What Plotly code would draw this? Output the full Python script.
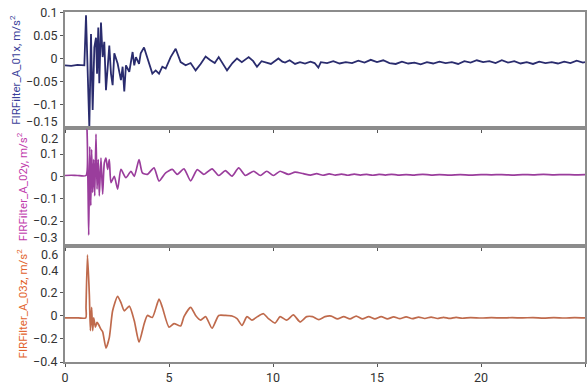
import plotly.graph_objects as go
from plotly.subplots import make_subplots

# ---------------- data ----------------
t_x = [0, 0.3, 0.6, 0.93, 1.01, 1.09, 1.17, 1.25, 1.33, 1.41, 1.49, 1.54, 1.60, 1.65, 1.73, 1.81,
       1.89, 1.97, 2.13, 2.21, 2.29, 2.37, 2.53, 2.69, 2.77, 2.85, 2.93, 3.09, 3.25, 3.33, 3.41,
       3.56, 3.64, 3.80, 3.96, 4.20, 4.36, 4.52, 4.68, 4.84, 5.08, 5.32, 5.56, 5.80, 6.04, 6.28,
       6.52, 6.76, 6.99, 7.2, 7.39, 7.6, 7.79, 8.05, 8.27, 8.50, 8.83, 9.05, 9.23, 9.45, 9.62,
       9.90, 10.26, 10.45, 10.58, 10.8, 11.06, 11.3, 11.54, 11.8, 12.0,
       12.18, 12.3, 12.6, 12.9, 13.2, 13.5, 13.8, 14.1, 14.4, 14.7, 15.0, 15.3, 15.6, 15.9, 16.2,
       16.5, 16.8, 17.1, 17.4, 17.7, 18.0, 18.3, 18.6, 18.9, 19.2, 19.5, 19.8, 20.1, 20.4, 20.7,
       21.0, 21.3, 21.6, 21.9, 22.2, 22.5, 22.8, 23.1, 23.4, 23.7, 24.0, 24.3, 24.6, 24.9, 25.0]
v_x = [-0.015, -0.016, -0.014, -0.015, 0.094, -0.033, -0.151, 0.053, -0.112, 0.024, 0.045, -0.033,
       0.067, -0.054, 0.078, 0.003, 0.036, -0.069, 0.028, -0.033, -0.058, 0.011, -0.011, -0.047,
       -0.018, -0.072, -0.015, -0.029, 0.014, -0.015, 0.003, -0.012, 0.011, 0.024, 0.003, -0.033,
       -0.026, -0.033, -0.018, -0.022, 0.003, 0.021, -0.008, -0.015, -0.010, -0.026,
       -0.012, 0.004, -0.004, -0.010, 0.003, -0.012, -0.026, -0.010, 0.0, -0.008, 0.003, -0.006,
       -0.018, -0.006, -0.008, -0.012, 0.0, -0.007, -0.009, -0.004, -0.012, -0.008, -0.011,
       -0.007, -0.010,
       -0.020, -0.008, -0.010, -0.006, -0.011, -0.008, -0.010, -0.005, -0.009, -0.003, -0.008,
       -0.004, -0.010, -0.012, -0.007, -0.011, -0.009, -0.013, -0.008, -0.011, -0.007, -0.010,
       -0.008, -0.012, -0.006, -0.009, -0.004, -0.008, -0.006, -0.010, -0.004, -0.009, -0.006,
       -0.011, -0.008, -0.012, -0.007, -0.010, -0.008, -0.011, -0.007, -0.010, -0.005, -0.009,
       -0.008]

t_y = [0, 0.3, 0.6, 1.01, 1.06, 1.11, 1.14, 1.19, 1.24, 1.28, 1.33, 1.38, 1.43, 1.49, 1.54, 1.60,
       1.65, 1.73, 1.81, 1.89, 1.97, 2.05, 2.13, 2.21, 2.37, 2.53, 2.69, 2.93, 3.17, 3.33, 3.56,
       3.72, 3.96, 4.28, 4.52, 4.84, 5.16, 5.40, 5.72, 6.04, 6.36, 6.67, 7.07, 7.39, 7.71, 8.03,
       8.35, 8.67, 9.07, 9.39, 9.70, 10.02, 10.34, 10.74, 11.06, 11.46, 11.8, 12.1, 12.4, 12.7,
       13.0, 13.3, 13.6, 13.9, 14.2, 14.5, 14.8, 15.1, 15.4, 15.7, 16.0, 16.4, 16.8, 17.2, 17.6,
       18.0, 18.5, 19.0, 19.5, 20.0, 20.5, 21.0, 21.5, 22.0, 22.5, 23.0, 23.5, 24.0, 24.5, 25.0]
v_y = [0.004, 0.005, 0.004, 0.004, 0.21, -0.072, -0.263, 0.133, -0.131, 0.12, -0.072, 0.075,
       -0.087, 0.189, -0.057, 0.075, -0.087, 0.082, -0.079, 0.06, 0.082, 0.031, 0.075, -0.028,
       0.0, -0.057, 0.031, -0.006, 0.023, 0.0, 0.075, 0.016, 0.009, 0.038, -0.021, 0.016, 0.031,
       0.009, 0.034, -0.02, 0.03, 0.009, 0.034, 0.004, 0.026, 0.001, 0.038, 0.004, 0.023, 0.004,
       0.023, 0.004, 0.023, 0.009, 0.019, 0.012, 0.006, 0.012, 0.005, 0.011, 0.006, 0.010, 0.005,
       0.010, 0.006, 0.009, 0.005, 0.009, 0.006, 0.009, 0.006, 0.008, 0.006, 0.009, 0.006, 0.008,
       0.006, 0.008, 0.006, 0.008, 0.007, 0.008, 0.006, 0.008, 0.007, 0.009, 0.007, 0.008, 0.007,
       0.008]

t_z = [0, 0.5, 1.0, 1.01, 1.08, 1.17, 1.22, 1.28, 1.33, 1.38, 1.46, 1.54, 1.62, 1.73, 1.81, 1.97,
       2.13, 2.29, 2.53, 2.69, 2.85, 3.09, 3.33, 3.56, 3.80, 3.96, 4.20, 4.52, 4.68, 5.00, 5.24,
       5.56, 5.72, 6.04, 6.28, 6.52, 6.76, 7.07, 7.39, 7.71, 8.03, 8.27, 8.51, 8.75, 8.99, 9.25,
       9.54, 9.78, 10.10, 10.34, 10.66, 10.98, 11.30, 11.62, 11.9, 12.2, 12.5, 12.8, 13.1, 13.4,
       13.7, 14.0, 14.3, 14.6, 14.9, 15.2, 15.5, 15.8, 16.1, 16.4, 16.7, 17.0, 17.3, 17.6, 17.9,
       18.2, 18.5, 18.8, 19.1, 19.5, 20.0, 20.5, 21.0, 21.5, 22.0, 22.5, 23.0, 23.5, 24.0, 24.5, 25.0]
v_z = [-0.02, -0.02, -0.02, 0.07, 0.52, 0.18, -0.13, 0.07, -0.13, -0.02, -0.10, -0.06, -0.08,
       -0.12, -0.14, -0.28, -0.19, 0.04, 0.165, 0.11, 0.04, 0.08, -0.045, -0.23, -0.075, 0.0,
       -0.017, 0.14, 0.07, -0.10, -0.07, -0.09, -0.01, 0.07, 0.0, -0.04, -0.01, -0.11, 0.0, 0.0,
       -0.005, -0.027, -0.085, -0.01, -0.04, -0.01, 0.015, -0.027, -0.065, -0.01, -0.04, 0.005,
       -0.055, -0.01, -0.01, -0.035, -0.01, -0.005, -0.03, -0.01, -0.03, -0.005, -0.03, -0.01,
       -0.03, -0.01, -0.03, -0.012, -0.028, -0.012, -0.028, -0.014, -0.026, -0.014, -0.026,
       -0.016, -0.025, -0.016, -0.024, -0.018, -0.022, -0.019, -0.021, -0.019, -0.021, -0.018,
       -0.023, -0.019, -0.022, -0.019, -0.021]

x_ticks = [0, 5, 10, 15, 20, 25]
yx_ticks = [-0.15, -0.1, -0.05, 0, 0.05, 0.1]
yx_text = ["−0.15", "−0.1", "−0.05", "0", "0.05", "0.1"]
yy_ticks = [-0.3, -0.2, -0.1, 0, 0.1, 0.2]
yy_text = ["−0.3", "−0.2", "−0.1", "0", "0.1", "0.2"]
yz_ticks = [-0.4, -0.2, 0, 0.2, 0.4, 0.6]
yz_text = ["−0.4", "−0.2", "0", "0.2", "0.4", "0.6"]

titles = ["FIRFilter_A_01x, m/s<sup>2</sup>", "FIRFilter_A_02y, m/s<sup>2</sup>",
          "FIRFilter_A_03z, m/s<sup>2</sup>"]

# ---------------- figure ----------------
FONT = "Liberation Sans Narrow, Roboto, sans-serif"
fig = make_subplots(rows=3, cols=1, shared_xaxes=True, vertical_spacing=0)

fig.add_trace(go.Scatter(x=t_x, y=v_x, mode="lines",
                         line=dict(color="#2a2c6e", width=1.8)), row=1, col=1)
fig.add_trace(go.Scatter(x=t_y, y=v_y, mode="lines",
                         line=dict(color="#9a3d9c", width=1.7, shape="spline", smoothing=0.6)),
              row=2, col=1)
fig.add_trace(go.Scatter(x=t_z, y=v_z, mode="lines",
                         line=dict(color="#bf6a4c", width=1.7, shape="spline", smoothing=0.6)),
              row=3, col=1)

tickfont = dict(family=FONT, size=12.5, color="#333")
axis_common = dict(showline=True, linecolor="#8c8c8c", linewidth=2, mirror=True,
                   showgrid=False, zeroline=False, ticks="outside", ticklen=3,
                   tickcolor="#555", tickfont=tickfont)

doms = [[0.6676, 1.0], [0.3324, 0.6676], [0.0, 0.3324]]
ranges = [[-0.152, 0.101], [-0.31, 0.215], [-0.4, 0.6]]
tvals = [yx_ticks, yy_ticks, yz_ticks]
ttexts = [yx_text, yy_text, yz_text]
tcols = ["#3b3f9a", "#c03aac", "#e2622c"]
# labels at panel edges are nudged inward (pixels) so they do not collide
nudges = [{-0.15: 6}, {0.2: -7, -0.3: 6}, {0.6: -9, 0.4: -2}]

annotations = []
for i in range(3):
    keep = [(v, s) for v, s in zip(tvals[i], ttexts[i]) if v not in nudges[i]]
    fig.update_yaxes(row=i + 1, col=1, domain=doms[i], range=ranges[i],
                     tickvals=[v for v, _ in keep], ticktext=[s for _, s in keep],
                     title=dict(text=titles[i], font=dict(family=FONT, size=11.5, color=tcols[i]),
                                standoff=3),
                     **axis_common)
    fig.update_xaxes(row=i + 1, col=1, range=[0, 25], tickvals=x_ticks,
                     showticklabels=(i == 2), **axis_common)
    yref = "y" if i == 0 else "y%d" % (i + 1)
    for v, s in zip(tvals[i], ttexts[i]):
        if v in nudges[i]:
            annotations.append(dict(text=s, xref="paper", x=0, xanchor="right", xshift=-5,
                                    yref=yref, y=v, yanchor="middle", yshift=nudges[i][v],
                                    showarrow=False, font=tickfont))

fig.update_layout(width=588, height=386, margin=dict(l=65, r=1, t=12, b=19),
                  paper_bgcolor="white", plot_bgcolor="white", showlegend=False,
                  annotations=annotations)

fig.write_html("out.html")
